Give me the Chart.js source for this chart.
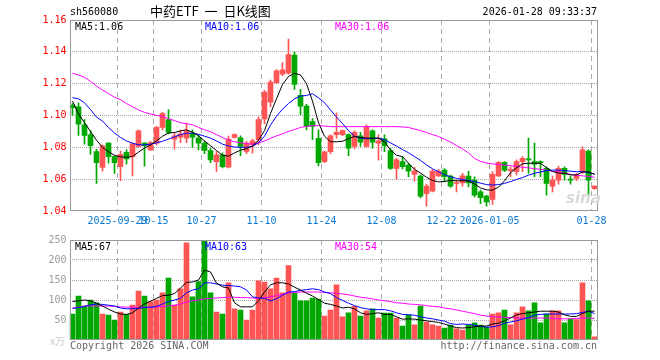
<!DOCTYPE html>
<html><head><meta charset="utf-8">
<script src="https://cdn.jsdelivr.net/npm/chart.js@4.4.1/dist/chart.umd.min.js"></script>
<style>
html,body{margin:0;padding:0;background:#fff;}
#wrap{position:relative;width:660px;height:360px;overflow:hidden;font-family:"DejaVu Sans Mono",monospace;font-size:10px;}
canvas{position:absolute;left:0;}
#c1{top:0;}
#c2{top:230px;}
.t{position:absolute;white-space:pre;line-height:12px;}
</style></head><body>
<div id="wrap">
<canvas id="c1" width="660" height="230"></canvas>
<canvas id="c2" width="660" height="130"></canvas>
<div class="t" style="left:70px;top:6px;color:#000;">sh560080</div>
<div class="t" style="left:150px;top:3px;font-family:'Noto Sans CJK SC',sans-serif;font-size:13px;line-height:16px;word-spacing:3px;color:#000;">中药ETF 一 日K线图</div>
<div class="t" style="right:63px;top:6px;color:#000;">2026-01-28 09:33:37</div>
<div class="t" style="left:75px;top:21px;color:#000;">MA5:1.06</div>
<div class="t" style="left:205px;top:21px;color:#0000ff;">MA10:1.06</div>
<div class="t" style="left:335px;top:21px;color:#ff00ff;">MA30:1.06</div>
<div class="t" style="left:75px;top:241px;color:#000;">MA5:67</div>
<div class="t" style="left:205px;top:241px;color:#0000ff;">MA10:63</div>
<div class="t" style="left:335px;top:241px;color:#ff00ff;">MA30:54</div>
<div class="t" style="left:70px;top:340px;color:#666;">Copyright 2026 SINA.COM</div>
<div class="t" style="right:63px;top:340px;color:#666;">http://finance.sina.com.cn</div>
<div class="t" style="left:50px;top:335px;color:#c8c8c8;font-family:'Noto Sans CJK SC',sans-serif;font-size:10px;">x万</div>
<div class="t" style="left:566px;top:190px;color:#d9d9d9;font-family:'DejaVu Sans',sans-serif;font-weight:bold;font-style:italic;font-size:15px;line-height:16px;">sina</div>
</div>
<script>
const dates = ['2025-09-17','2025-09-18','2025-09-19','2025-09-22','2025-09-23','2025-09-24','2025-09-25','2025-09-26','2025-09-29','2025-09-30',
'2025-10-09','2025-10-10','2025-10-13','2025-10-14','2025-10-15','2025-10-16','2025-10-17','2025-10-20','2025-10-21','2025-10-22',
'2025-10-23','2025-10-24','2025-10-27','2025-10-28','2025-10-29','2025-10-30','2025-10-31','2025-11-03','2025-11-04','2025-11-05',
'2025-11-06','2025-11-07','2025-11-10','2025-11-11','2025-11-12','2025-11-13','2025-11-14','2025-11-17','2025-11-18','2025-11-19',
'2025-11-20','2025-11-21','2025-11-24','2025-11-25','2025-11-26','2025-11-27','2025-11-28','2025-12-01','2025-12-02','2025-12-03',
'2025-12-04','2025-12-05','2025-12-08','2025-12-09','2025-12-10','2025-12-11','2025-12-12','2025-12-15','2025-12-16','2025-12-17',
'2025-12-18','2025-12-19','2025-12-22','2025-12-23','2025-12-24','2025-12-25','2025-12-26','2025-12-29','2025-12-30','2025-12-31',
'2026-01-05','2026-01-06','2026-01-07','2026-01-08','2026-01-09','2026-01-12','2026-01-13','2026-01-14','2026-01-15','2026-01-16',
'2026-01-19','2026-01-20','2026-01-21','2026-01-22','2026-01-23','2026-01-26','2026-01-27','2026-01-28'];

const openP = [1.1066,1.1055,1.0942,1.0879,1.0773,1.0674,1.0826,1.0742,1.0678,1.0769,
1.0742,1.0805,1.0826,1.0784,1.0826,1.0925,1.0974,1.0851,1.0864,1.0858,
1.0889,1.0858,1.0826,1.0780,1.0710,1.0753,1.0675,1.0862,1.0860,1.0774,
1.0816,1.0848,1.0978,1.1084,1.1206,1.1260,1.1266,1.1380,1.1126,1.1059,
1.0962,1.0856,1.0710,1.0772,1.0880,1.0880,1.0880,1.0805,1.0873,1.0805,
1.0904,1.0826,1.0853,1.0780,1.0668,1.0710,1.0689,1.0630,1.0619,1.0509,
1.0524,1.0621,1.0657,1.0619,1.0573,1.0577,1.0619,1.0594,1.0520,1.0493,
1.0472,1.0621,1.0706,1.0655,1.0647,1.0710,1.0727,1.0710,1.0710,1.0668,
1.0556,1.0594,1.0668,1.0600,1.0604,1.0647,1.0777,1.0540];
const highP = [1.1075,1.1080,1.0974,1.0906,1.0788,1.0815,1.0830,1.0746,1.0777,1.0784,
1.0826,1.0910,1.0830,1.0837,1.0932,1.1020,1.1037,1.0889,1.0910,1.0953,
1.0910,1.0879,1.0840,1.0795,1.0774,1.0765,1.0870,1.0885,1.0873,1.0837,
1.0852,1.0991,1.1158,1.1223,1.1288,1.1333,1.1480,1.1400,1.1164,1.1070,
1.0980,1.0910,1.0775,1.0878,1.1016,1.0910,1.0885,1.0904,1.0894,1.0942,
1.0910,1.0879,1.0879,1.0794,1.0731,1.0742,1.0700,1.0674,1.0626,1.0569,
1.0661,1.0661,1.0667,1.0626,1.0594,1.0636,1.0650,1.0615,1.0531,1.0500,
1.0647,1.0710,1.0710,1.0678,1.0721,1.0742,1.0858,1.0826,1.0715,1.0678,
1.0620,1.0680,1.0678,1.0620,1.0636,1.0805,1.0784,1.0560];
const lowP = [1.1000,1.0875,1.0820,1.0756,1.0573,1.0651,1.0700,1.0636,1.0590,1.0695,
1.0621,1.0800,1.0682,1.0780,1.0815,1.0910,1.0885,1.0788,1.0830,1.0830,
1.0800,1.0784,1.0760,1.0704,1.0647,1.0670,1.0670,1.0858,1.0748,1.0760,
1.0763,1.0816,1.0949,1.1054,1.1200,1.1250,1.1260,1.1164,1.1006,1.0910,
1.0848,1.0683,1.0704,1.0760,1.0858,1.0873,1.0748,1.0790,1.0805,1.0799,
1.0794,1.0720,1.0773,1.0661,1.0600,1.0664,1.0615,1.0588,1.0482,1.0431,
1.0520,1.0615,1.0583,1.0548,1.0520,1.0556,1.0552,1.0488,1.0446,1.0431,
1.0442,1.0615,1.0647,1.0615,1.0626,1.0647,1.0636,1.0615,1.0615,1.0499,
1.0520,1.0569,1.0594,1.0569,1.0590,1.0636,1.0493,1.0535];
const closeP = [1.1049,1.0945,1.0875,1.0811,1.0704,1.0810,1.0742,1.0704,1.0756,1.0727,
1.0822,1.0904,1.0811,1.0830,1.0925,1.1012,1.0894,1.0872,1.0885,1.0906,
1.0864,1.0826,1.0780,1.0721,1.0753,1.0679,1.0852,1.0880,1.0805,1.0827,
1.0841,1.0974,1.1147,1.1210,1.1280,1.1287,1.1382,1.1196,1.1059,1.0932,
1.0932,1.0704,1.0772,1.0873,1.0894,1.0906,1.0794,1.0894,1.0832,1.0932,
1.0832,1.0841,1.0811,1.0668,1.0721,1.0678,1.0651,1.0651,1.0493,1.0556,
1.0651,1.0651,1.0615,1.0556,1.0579,1.0621,1.0577,1.0499,1.0484,1.0457,
1.0630,1.0706,1.0657,1.0661,1.0710,1.0731,1.0721,1.0695,1.0704,1.0573,
1.0594,1.0668,1.0630,1.0594,1.0626,1.0784,1.0594,1.0556];

const ma5P = [1.1090,1.1010,1.0955,1.0900,1.0845,1.0800,1.0772,1.0750,1.0740,1.0738,
1.0742,1.0770,1.0795,1.0815,1.0840,1.0870,1.0890,1.0893,1.0903,1.0910,
1.0895,1.0873,1.0840,1.0810,1.0780,1.0750,1.0745,1.0765,1.0782,1.0792,
1.0810,1.0845,1.0905,1.1012,1.1105,1.1195,1.1245,1.1265,1.1255,1.1200,
1.1090,1.0955,1.0870,1.0835,1.0835,1.0838,1.0855,1.0868,1.0862,1.0858,
1.0858,1.0858,1.0835,1.0783,1.0750,1.0742,1.0700,1.0662,1.0638,1.0612,
1.0592,1.0583,1.0586,1.0592,1.0590,1.0590,1.0588,1.0570,1.0545,1.0533,
1.0531,1.0550,1.0590,1.0640,1.0672,1.0697,1.0700,1.0700,1.0700,1.0672,
1.0648,1.0638,1.0637,1.0627,1.0626,1.0645,1.0645,1.0630];
const ma10P = [1.1112,1.1105,1.1080,1.1037,1.0990,1.0965,1.0925,1.0890,1.0862,1.0840,
1.0826,1.0816,1.0815,1.0820,1.0828,1.0838,1.0852,1.0866,1.0880,1.0889,
1.0889,1.0882,1.0870,1.0858,1.0840,1.0820,1.0808,1.0802,1.0800,1.0800,
1.0805,1.0830,1.0870,1.0940,1.0995,1.1040,1.1075,1.1105,1.1122,1.1126,
1.1137,1.1111,1.1080,1.1035,1.0990,1.0950,1.0905,1.0870,1.0858,1.0854,
1.0855,1.0858,1.0848,1.0828,1.0808,1.0786,1.0766,1.0742,1.0718,1.0690,
1.0665,1.0647,1.0628,1.0615,1.0605,1.0598,1.0592,1.0585,1.0575,1.0566,
1.0563,1.0566,1.0573,1.0585,1.0598,1.0610,1.0625,1.0637,1.0645,1.0654,
1.0657,1.0657,1.0654,1.0650,1.0647,1.0647,1.0642,1.0632];
const ma30P = [1.1266,1.1255,1.1240,1.1215,1.1185,1.1160,1.1138,1.1115,1.1100,1.1075,
1.1055,1.1035,1.1020,1.1010,1.1000,1.0995,1.0980,1.0968,1.0955,1.0948,
1.0942,1.0925,1.0910,1.0898,1.0880,1.0862,1.0846,1.0835,1.0829,1.0823,
1.0820,1.0828,1.0840,1.0856,1.0872,1.0885,1.0900,1.0912,1.0925,1.0932,
1.0936,1.0936,1.0934,1.0930,1.0930,1.0930,1.0930,1.0930,1.0930,1.0930,
1.0930,1.0930,1.0930,1.0930,1.0930,1.0928,1.0925,1.0915,1.0905,1.0893,
1.0880,1.0868,1.0850,1.0833,1.0812,1.0790,1.0765,1.0730,1.0712,1.0702,
1.0696,1.0692,1.0689,1.0685,1.0679,1.0675,1.0671,1.0666,1.0662,1.0656,
1.0650,1.0645,1.0638,1.0630,1.0625,1.0621,1.0617,1.0612];

const volume = [65,110,85,100,93,65,62,50,70,64,
87,122,110,96,100,118,155,87,128,243,
108,146,248,118,70,65,143,78,75,50,
75,148,145,128,155,118,186,117,98,98,
105,102,60,75,138,58,68,84,60,73,
78,55,67,67,55,35,63,38,85,45,
38,35,30,37,28,25,37,43,37,32,
65,68,75,38,68,83,73,93,43,65,
73,73,43,53,51,143,98,8];
const ma5V = [96,98,100,98,92,85,77,70,65,64,
68,80,90,97,104,111,112,116,130,144,
145,150,175,170,142,133,130,93,83,83,
83,98,120,138,143,143,140,132,125,117,
110,101,92,89,85,80,82,78,68,64,
66,68,64,64,58,52,53,52,50,48,
46,44,40,35,31,30,31,33,35,35,
40,42,48,55,63,66,68,70,72,72,
72,70,63,59,59,66,72,72];
const ma10V = [79,81,84,88,90,89,87,85,80,78,
78,79,81,82,84,90,96,100,104,118,
125,128,143,143,140,137,136,135,133,125,
108,105,104,98,103,112,120,121,124,126,
128,126,120,116,106,99,92,86,81,78,
76,76,76,73,68,64,63,62,58,55,
53,50,47,41,39,40,39,37,34,32,
33,36,42,45,48,52,56,62,64,65,
65,65,65,65,66,69,72,66];
const ma30V = [80,82,85,85,85,85,85,84,83,82,
82,82,82,82,83,84,85,87,90,95,
98,100,103,104,105,106,107,107,106,106,
105,104,105,108,111,114,117,119,120,120,
120,120,119,118,117,115,113,110,107,105,
103,100,98,96,93,92,90,89,88,86,
84,83,80,78,75,72,69,66,62,60,
58,57,57,56,55,55,55,55,55,55,
54,53,53,53,54,55,55,54];

const tickDates = ['2025-09-29','2025-10-15','2025-10-27','2025-11-10','2025-11-24','2025-12-08','2025-12-22','2026-01-05','2026-01-28'];
const tickTexts = ['2025-09-29','10-15','10-27','11-10','11-24','12-08','12-22','2026-01-05','01-28'];
const priceTicks = [1.04,1.06,1.08,1.10,1.12,1.14,1.16];
const volTicks = [0,50,100,150,200,250];

const RED = '#ff5555', GREEN = '#00a800', GRID = '#aaaaaa', FRAME = '#999999';
const MONO = 'DejaVu Sans Mono';
Chart.defaults.font.family = MONO;
Chart.defaults.font.size = 10;

const tickIndex = {};
tickDates.forEach((d, i) => { tickIndex[dates.indexOf(d)] = tickTexts[i]; });
const colors = dates.map((d, i) => closeP[i] >= openP[i] ? RED : GREEN);
const bodies = dates.map((d, i) => [Math.min(openP[i], closeP[i]), Math.max(openP[i], closeP[i])]);
const wicks = dates.map((d, i) => [lowP[i], highP[i]]);

const framePlugin = {
  id: 'frame',
  afterDraw(chart) {
    const a = chart.chartArea, c = chart.ctx;
    c.save();
    c.strokeStyle = FRAME; c.lineWidth = 1;
    c.strokeRect(Math.round(a.left) + 0.5, Math.round(a.top) + 0.5, Math.round(a.right) - Math.round(a.left) - 1, Math.round(a.bottom) - Math.round(a.top) - 1);
    c.restore();
  }
};

function xScale(showLabels) {
  return {
    type: 'category', offset: true,
    grid: { display: true, drawTicks: false, offset: true, lineWidth: 1,
      color: ctx => (ctx.index !== undefined && tickIndex[ctx.index] !== undefined) ? GRID : 'rgba(0,0,0,0)' },
    border: { display: false, dash: [5, 4] },
    ticks: { display: showLabels, autoSkip: false, maxRotation: 0, minRotation: 0, padding: 4, labelOffset: -3,
      color: '#0a78d2', font: { family: MONO, size: 10 },
      callback: (v, i) => tickIndex[i] !== undefined ? tickIndex[i] : '' },
    afterFit: s => { s.height = showLabels ? 19 : 0; }
  };
}
function yGridColor(n) {
  return ctx => (ctx.index === 0 || ctx.index === n - 1) ? 'rgba(0,0,0,0)' : GRID;
}

const common = {
  responsive: false, animation: false,
  plugins: { legend: { display: false }, tooltip: { enabled: false } },
  layout: { padding: { left: 9.5, right: 62.5, top: 0, bottom: 0 } }
};

new Chart(document.getElementById('c1'), {
  data: {
    labels: dates,
    datasets: [
      { type: 'line', data: ma5P, borderColor: '#000000', borderWidth: 1, pointRadius: 0, tension: 0, order: 0 },
      { type: 'line', data: ma10P, borderColor: '#0000ff', borderWidth: 1, pointRadius: 0, tension: 0, order: 1 },
      { type: 'line', data: ma30P, borderColor: '#ff00ff', borderWidth: 1, pointRadius: 0, tension: 0, order: 2 },
      { type: 'bar', data: bodies, backgroundColor: colors, barThickness: 5, grouped: false, minBarLength: 1, borderWidth: 0, order: 3 },
      { type: 'bar', data: wicks, backgroundColor: colors, barThickness: 1, grouped: false, borderWidth: 0, order: 4 }
    ]
  },
  options: Object.assign({}, common, {
    layout: { padding: { left: 9.5, right: 62.5, top: 20, bottom: 0 } },
    scales: {
      x: xScale(true),
      y: { min: 1.04, max: 1.16,
        afterBuildTicks: s => { s.ticks = priceTicks.map(v => ({ value: v })); },
        grid: { drawTicks: false, color: yGridColor(priceTicks.length) },
        border: { display: false, dash: [1, 1] },
        ticks: { color: '#ff0000', padding: 3, font: { family: MONO, size: 10 }, callback: v => Number(v).toFixed(2) },
        afterFit: s => { s.width = 60; } }
    }
  }),
  plugins: [framePlugin]
});

new Chart(document.getElementById('c2'), {
  data: {
    labels: dates,
    datasets: [
      { type: 'line', data: ma5V, borderColor: '#000000', borderWidth: 1, pointRadius: 0, tension: 0, order: 0 },
      { type: 'line', data: ma10V, borderColor: '#0000ff', borderWidth: 1, pointRadius: 0, tension: 0, order: 1 },
      { type: 'line', data: ma30V, borderColor: '#ff00ff', borderWidth: 1, pointRadius: 0, tension: 0, order: 2 },
      { type: 'bar', data: volume, backgroundColor: colors, barThickness: 5, grouped: false, borderWidth: 0, order: 3 }
    ]
  },
  options: Object.assign({}, common, {
    layout: { padding: { left: 9.5, right: 62.5, top: 10, bottom: 20 } },
    scales: {
      x: xScale(false),
      y: { min: 0, max: 250,
        afterBuildTicks: s => { s.ticks = volTicks.map(v => ({ value: v })); },
        grid: { drawTicks: false, color: yGridColor(volTicks.length) },
        border: { display: false, dash: [1, 1] },
        ticks: { color: '#999999', padding: 3, font: { family: MONO, size: 10 }, callback: v => v === 0 ? '' : String(v) },
        afterFit: s => { s.width = 60; } }
    }
  }),
  plugins: [framePlugin]
});
</script>
</body></html>
